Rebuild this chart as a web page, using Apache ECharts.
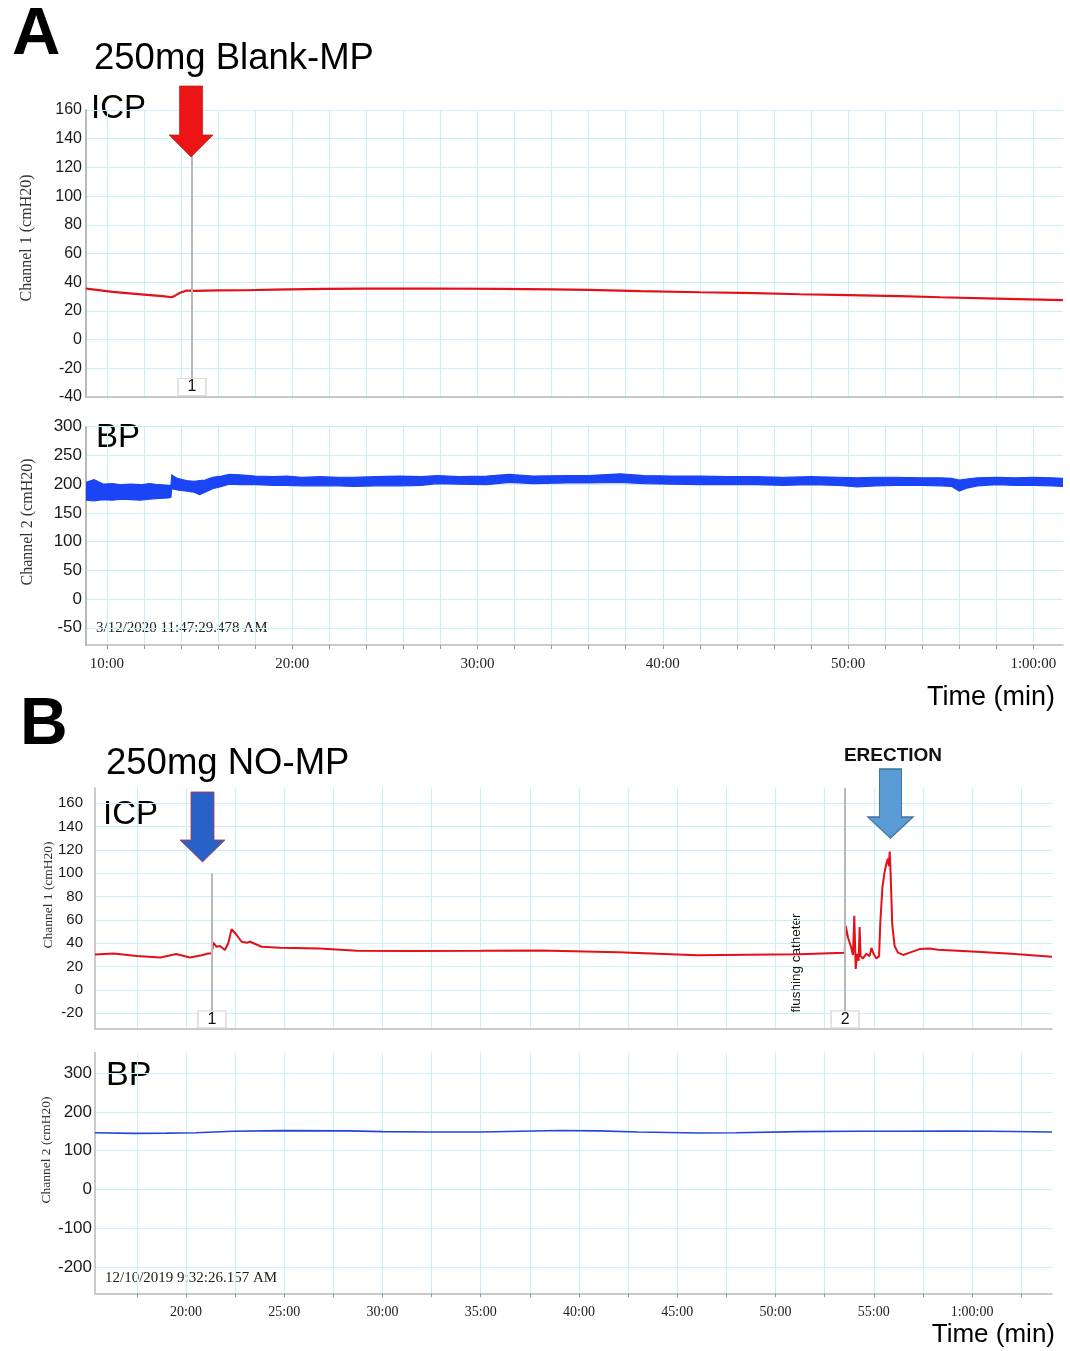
<!DOCTYPE html>
<html>
<head>
<meta charset="utf-8">
<script src="https://cdn.jsdelivr.net/npm/echarts@6/dist/echarts.min.js"></script>
<style>
html,body{margin:0;padding:0;background:#fff;}
#main{width:1070px;height:1351px;}
</style>
</head>
<body>
<div id="main"></div>
<script>
// ---------- DATA ----------
// Panel A: ICP (Channel 1), time in minutes
const icpA_t = [8.87, 9.0, 10.3, 12.0, 13.0, 13.5, 13.7, 13.95, 14.3, 14.8, 16, 17.5, 19, 21.7, 24, 27.4, 31.2, 34, 36, 38.8, 42, 45, 47.4, 50, 52.8, 55, 58, 61.6];
const icpA_v = [35.8, 35.3, 33.2, 31.4, 30.3, 29.5, 30.8, 32.6, 34.2, 34.0, 34.3, 34.4, 34.8, 35.3, 35.5, 35.6, 35.3, 35.0, 34.7, 33.8, 33.0, 32.4, 31.6, 31.0, 30.3, 29.5, 28.6, 27.5];

// Panel A: BP (Channel 2) – noisy trace, drawn as upper / lower envelope
const bpA_t  = [8.87, 9.3, 9.8, 10.3, 10.8, 11.3, 11.8, 12.3, 12.8, 13.3, 13.45, 13.5, 13.8, 14.3, 14.7, 15.0, 15.3, 15.7, 16.2, 16.6, 17.2, 18, 19, 19.7, 20.5, 21.5, 22.5, 23.3, 24.5, 25.8, 27, 27.8, 29, 30.5, 31.7, 33, 34.9, 36, 37.7, 39, 40.5, 42, 43.5, 45, 46.5, 48, 49.5, 50.5, 51.5, 52.5, 54, 55, 55.6, 56.0, 56.4, 57, 58, 59, 60, 61, 61.6];
const bpA_hi = [203, 208, 200, 201, 199, 200, 199, 201, 199, 198, 197, 216, 210, 206, 205, 206, 207, 212, 214, 217, 216, 214, 213, 214, 212, 213, 212, 212, 213, 214, 213, 215, 213, 214, 217, 214, 215, 215, 218, 215, 214, 214, 213, 213, 212, 213, 212, 211, 212, 212, 211, 211, 210, 207, 209, 211, 212, 211, 212, 211, 210];
const bpA_lo = [172, 171, 173, 172, 174, 173, 172, 174, 175, 176, 177, 192, 190, 188, 186, 182, 186, 192, 196, 200, 199, 199, 198, 198, 197, 197, 197, 196, 197, 197, 198, 201, 200, 199, 203, 201, 202, 202, 203, 201, 200, 199, 199, 199, 198, 199, 198, 195, 197, 198, 198, 197, 196, 188, 193, 197, 199, 198, 198, 197, 196];

// Panel B: ICP (Channel 1)
const icpB_t = [15.37, 15.46, 16.3, 17.5, 18.7, 19.5, 20.2, 20.8, 21.13, 21.31, 21.39, 21.56, 21.73, 21.98, 22.15, 22.32, 22.58, 22.83, 23.09, 23.26, 23.85, 24.78, 26.8, 28.7, 31.4, 35, 38, 42, 46, 51.2, 53.52, 53.57, 53.69, 53.86, 53.94, 54.01, 54.08, 54.15, 54.23, 54.28, 54.33, 54.45, 54.62, 54.79, 54.88, 54.99, 55.13, 55.27, 55.33, 55.44, 55.55, 55.64, 55.72, 55.77, 55.81, 55.86, 55.94, 56.06, 56.23, 56.49, 56.83, 57.34, 57.84, 58.27, 60, 62, 64.07];
const icpB_v = [30.3, 29.9, 31.3, 29.0, 27.9, 30.8, 27.8, 29.8, 31.3, 31.3, 40.5, 37.0, 37.6, 34.2, 40.0, 52.0, 47.1, 41.3, 40.5, 41.3, 37.0, 36.2, 35.6, 33.6, 33.3, 33.5, 33.8, 32.3, 29.8, 30.5, 31.8, 55, 45, 36, 30, 63.5, 18, 31, 25, 54, 29, 27, 31, 29, 36, 31, 27, 29, 56.6, 88, 101, 108, 112.6, 106, 118.5, 99, 56, 37.7, 32, 30, 32, 35, 35.5, 34.5, 33, 31, 28.5];

// Panel B: BP (Channel 2)
const bpB_t = [15.37, 17.3, 19, 20.5, 22.4, 24.9, 28.3, 30, 32.4, 35, 37, 39, 41, 43, 46.1, 48, 51.2, 54, 56, 58.9, 61, 64.07];
const bpB_v = [146, 144.5, 145, 146, 150, 151.5, 151, 149, 148, 148, 150, 152, 151, 148, 145.5, 146, 149, 150, 150, 150.6, 150, 148];

// Ticks / labels
const xTicksA  = [10, 12, 14, 16, 18, 20, 22, 24, 26, 28, 30, 32, 34, 36, 38, 40, 42, 44, 46, 48, 50, 52, 54, 56, 58, 60];
const xLabelsA = [10, 20, 30, 40, 50, 60];
const xTicksB  = [17.5, 20, 22.5, 25, 27.5, 30, 32.5, 35, 37.5, 40, 42.5, 45, 47.5, 50, 52.5, 55, 57.5, 60, 62.5];
const xLabelsB = [20, 25, 30, 35, 40, 45, 50, 55, 60];
const yTicksIcpA = [-40, -20, 0, 20, 40, 60, 80, 100, 120, 140, 160];
const yTicksBpA  = [-50, 0, 50, 100, 150, 200, 250, 300];
const yTicksIcpB = [-20, 0, 20, 40, 60, 80, 100, 120, 140, 160];
const yTicksBpB  = [-200, -100, 0, 100, 200, 300];

// Events (time of marker, label)
const eventsA = [{t: 14.59, label: '1'}];
const eventsB = [{t: 21.32, label: '1'}, {t: 53.54, label: '2'}];

// ---------- BUILD ----------
const zip = (a, b) => a.map((x, i) => [x, b[i]]);
const fmtTime = v => v >= 60 ? (Math.floor(v / 60) + ':' + String(Math.round(v - 60)).padStart(2, '0') + ':00') : (Math.round(v) + ':00');

const GRIDC = '#c6f2f7';
const AXISC = '#b9b9b9';
const SERIF = '"Liberation Serif", "DejaVu Serif", serif';
const SANS = '"Liberation Sans", Arial, sans-serif';

function xAxisCfg(grid, min, max, ticks, labels, showLabels, fontSize) {
  return {
    type: 'value', gridIndex: grid, min: min, max: max,
    axisLine: {show: true, onZero: false, lineStyle: {color: AXISC, width: 1.5}},
    axisTick: {show: showLabels, customValues: ticks, length: 4, lineStyle: {color: '#999'}},
    axisLabel: {show: showLabels, customValues: labels, formatter: fmtTime, color: '#222',
      fontFamily: SERIF, fontSize: fontSize, margin: showLabels ? 12 : 8},
    splitLine: {show: true, lineStyle: {color: GRIDC, width: 1}}
  };
}
function yAxisCfg(grid, min, max, ticks, fontSize, margin, lw) {
  return {
    type: 'value', gridIndex: grid, min: min, max: max,
    axisLine: {show: true, onZero: false, lineStyle: {color: AXISC, width: lw}},
    axisTick: {show: false, customValues: ticks},
    axisLabel: {show: true, customValues: ticks, color: '#1a1a1a', fontFamily: SANS, fontSize: fontSize, margin: margin},
    splitLine: {show: true, lineStyle: {color: GRIDC, width: 1}}
  };
}

const arrowPath = (w, h, sw, hs) => {
  const a = (w - sw) / 2, b = (w + sw) / 2;
  return 'path://M' + a + ',0 L' + b + ',0 L' + b + ',' + hs + ' L' + w + ',' + hs + ' L' + (w / 2) + ',' + h + ' L0,' + hs + ' L' + a + ',' + hs + ' Z';
};

function eventLine(t, y0, y1) {
  return [{coord: [t, y0]}, {coord: [t, y1]}];
}
function eventBox(t, y, label) {
  return {coord: [t, y], symbol: 'rect', symbolSize: [28, 17],
    itemStyle: {color: '#ffffff', borderColor: '#d4d4d4', borderWidth: 1},
    label: {show: true, position: 'inside', formatter: label, color: '#111', fontFamily: SANS, fontSize: 16}};
}

// Band (upper / lower envelope) rendered through the axis scales
function renderBand(params, api) {
  if (params.dataIndex !== 0) return null;
  const up = bpA_t.map((t, i) => api.coord([t, bpA_hi[i]]));
  const lo = bpA_t.map((t, i) => api.coord([t, bpA_lo[i]])).reverse();
  return {
    type: 'polygon',
    shape: {points: up.concat(lo)},
    style: {fill: '#1a44f5', stroke: '#1a44f5', lineWidth: 1.2}
  };
}

const option = {
  animation: false,
  backgroundColor: '#ffffff',
  grid: [
    {left: 86, top: 110, width: 977, height: 287, outerBoundsMode: 'none'},
    {left: 86, top: 426.7, width: 977, height: 218.3, outerBoundsMode: 'none'},
    {left: 95, top: 788, width: 957, height: 240.5, outerBoundsMode: 'none'},
    {left: 95, top: 1052.5, width: 957, height: 240.8, outerBoundsMode: 'none'}
  ],
  xAxis: [
    xAxisCfg(0, 8.87, 61.6, xTicksA, xLabelsA, false, 15),
    xAxisCfg(1, 8.87, 61.6, xTicksA, xLabelsA, true, 15),
    xAxisCfg(2, 15.37, 64.07, xTicksB, xLabelsB, false, 14),
    xAxisCfg(3, 15.37, 64.07, xTicksB, xLabelsB, true, 14)
  ],
  yAxis: [
    yAxisCfg(0, -40, 160, yTicksIcpA, 16, 4, 2),
    yAxisCfg(1, -80, 300, yTicksBpA, 17, 4, 2),
    yAxisCfg(2, -33, 173, yTicksIcpB, 15, 12, 1.5),
    yAxisCfg(3, -268, 353, yTicksBpB, 17, 3, 1.5)
  ],
  series: [
    {
      name: 'ICP A', type: 'line', xAxisIndex: 0, yAxisIndex: 0, data: zip(icpA_t, icpA_v),
      symbol: 'none', lineStyle: {color: '#e3101a', width: 2.2}, silent: true, z: 3,
      markLine: {silent: true, symbol: ['none', 'none'], label: {show: false},
        lineStyle: {color: '#b8b8b8', width: 2, type: 'solid'},
        data: eventsA.map(e => eventLine(e.t, -27, 128))},
      markPoint: {silent: true, data: [
        ...eventsA.map(e => eventBox(e.t, -33, e.label)),
        {coord: [14.54, 152], symbol: arrowPath(44, 71, 23, 49), symbolSize: [44, 71], symbolKeepAspect: false,
          itemStyle: {color: '#ec1414', borderColor: '#b01010', borderWidth: 0.6}, label: {show: false}}
      ]}
    },
    {
      name: 'BP A', type: 'custom', xAxisIndex: 1, yAxisIndex: 1,
      data: bpA_t.map((t, i) => [t, bpA_hi[i], bpA_lo[i]]),
      encode: {x: 0, y: [1, 2]},
      renderItem: renderBand, silent: true, clip: true, z: 2
    },
    {
      name: 'ICP B', type: 'line', xAxisIndex: 2, yAxisIndex: 2, data: zip(icpB_t, icpB_v),
      symbol: 'none', lineStyle: {color: '#e3101a', width: 2}, silent: true, z: 3,
      markLine: {silent: true, symbol: ['none', 'none'], label: {show: false},
        lineStyle: {color: '#b8b8b8', width: 2, type: 'solid'},
        data: [eventLine(eventsB[0].t, -19, 100), eventLine(eventsB[1].t, -19, 173)]},
      markPoint: {silent: true, data: [
        ...eventsB.map(e => eventBox(e.t, -25.3, e.label)),
        {coord: [20.84, 139.6], symbol: arrowPath(45, 70, 23, 48), symbolSize: [45, 70], symbolKeepAspect: false,
          itemStyle: {color: '#2862c9', borderColor: '#c0303a', borderWidth: 0.8}, label: {show: false}},
        {coord: [55.85, 159.7], symbol: arrowPath(45, 69, 22, 48), symbolSize: [45, 69], symbolKeepAspect: false,
          itemStyle: {color: '#5b9bd5', borderColor: '#41719c', borderWidth: 1.2}, label: {show: false}}
      ]}
    },
    {
      name: 'BP B', type: 'line', xAxisIndex: 3, yAxisIndex: 3, data: zip(bpB_t, bpB_v),
      symbol: 'none', lineStyle: {color: '#1f46e0', width: 1.6}, silent: true
    }
  ],
  graphic: [
    {type: 'text', x: 12, y: 36, style: {text: 'A', font: 'bold 67px ' + SANS, fill: '#000', textAlign: 'left', textVerticalAlign: 'middle'}},
    {type: 'text', x: 94, y: 59, style: {text: '250mg Blank-MP', font: '36.5px ' + SANS, fill: '#000', textAlign: 'left', textVerticalAlign: 'middle'}},
    {type: 'text', x: 91, y: 109, style: {text: 'ICP', font: '33px ' + SANS, fill: '#000', textAlign: 'left', textVerticalAlign: 'middle'}},
    {type: 'text', x: 96, y: 438, style: {text: 'BP', font: '33px ' + SANS, fill: '#000', textAlign: 'left', textVerticalAlign: 'middle'}},
    {type: 'text', x: 27, y: 238, rotation: Math.PI / 2, style: {text: 'Channel 1 (cmH20)', font: '16px ' + SERIF, fill: '#333', textAlign: 'center', textVerticalAlign: 'middle'}},
    {type: 'text', x: 28, y: 522, rotation: Math.PI / 2, style: {text: 'Channel 2 (cmH20)', font: '16px ' + SERIF, fill: '#333', textAlign: 'center', textVerticalAlign: 'middle'}},
    {type: 'text', x: 96, y: 628, style: {text: '3/12/2020 11:47:29.478 AM', font: '15px ' + SERIF, fill: '#222', textAlign: 'left', textVerticalAlign: 'middle'}},
    {type: 'text', x: 1055, y: 698, style: {text: 'Time (min)', font: '27px ' + SANS, fill: '#000', textAlign: 'right', textVerticalAlign: 'middle'}},

    {type: 'text', x: 20, y: 726, style: {text: 'B', font: 'bold 66px ' + SANS, fill: '#000', textAlign: 'left', textVerticalAlign: 'middle'}},
    {type: 'text', x: 106, y: 764, style: {text: '250mg NO-MP', font: '36.5px ' + SANS, fill: '#000', textAlign: 'left', textVerticalAlign: 'middle'}},
    {type: 'text', x: 103, y: 815, style: {text: 'ICP', font: '33px ' + SANS, fill: '#000', textAlign: 'left', textVerticalAlign: 'middle'}},
    {type: 'text', x: 106, y: 1076, style: {text: 'BP', font: '34px ' + SANS, fill: '#000', textAlign: 'left', textVerticalAlign: 'middle'}},
    {type: 'text', x: 893, y: 756, style: {text: 'ERECTION', font: 'bold 19px "Liberation Sans Narrow", ' + SANS, fill: '#111', textAlign: 'center', textVerticalAlign: 'middle'}},
    {type: 'text', x: 796, y: 963, rotation: Math.PI / 2, style: {text: 'flushing catheter', font: '13.5px ' + SANS, fill: '#111', textAlign: 'center', textVerticalAlign: 'middle'}},
    {type: 'text', x: 48, y: 895, rotation: Math.PI / 2, style: {text: 'Channel 1 (cmH20)', font: '13.5px ' + SERIF, fill: '#333', textAlign: 'center', textVerticalAlign: 'middle'}},
    {type: 'text', x: 46, y: 1150, rotation: Math.PI / 2, style: {text: 'Channel 2 (cmH20)', font: '13.5px ' + SERIF, fill: '#333', textAlign: 'center', textVerticalAlign: 'middle'}},
    {type: 'text', x: 105, y: 1278, style: {text: '12/10/2019 9:32:26.157 AM', font: '15px ' + SERIF, fill: '#222', textAlign: 'left', textVerticalAlign: 'middle'}},
    {type: 'text', x: 1055, y: 1335, style: {text: 'Time (min)', font: '26px ' + SANS, fill: '#000', textAlign: 'right', textVerticalAlign: 'middle'}}
  ]
};

const chart = echarts.init(document.getElementById('main'), null, {renderer: 'canvas'});
chart.setOption(option);
</script>
</body>
</html>
